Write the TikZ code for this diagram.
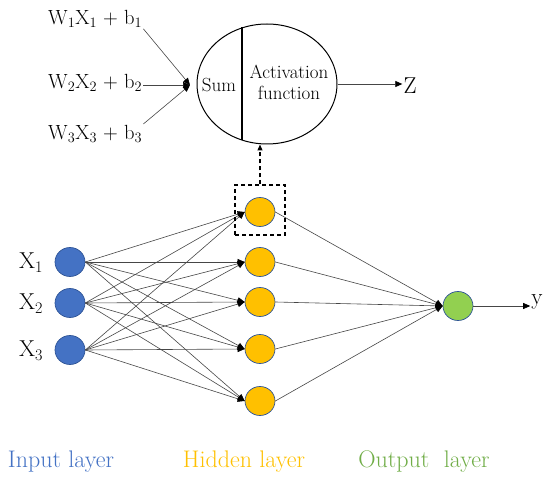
\documentclass[tikz,border=0pt]{standalone}
\usetikzlibrary{shapes.geometric,arrows.meta}
\definecolor{inblue}{RGB}{68,114,196}
\definecolor{hidyel}{RGB}{255,192,0}
\definecolor{outgrn}{RGB}{146,208,80}
\definecolor{lblgrn}{RGB}{112,173,71}
\definecolor{edgegray}{RGB}{70,70,70}
\definecolor{rimblue}{RGB}{47,85,151}
\begin{document}
\begin{tikzpicture}[x=1pt,y=-1pt,
  unit/.style={ellipse, minimum width=30pt, minimum height=29pt, inner sep=0pt, draw=rimblue, line width=0.7pt},
  conn/.style={draw=edgegray, line width=0.6pt, -{Triangle[length=7pt,width=6pt,fill=black,color=black]}},
  bigtxt/.style={font=\fontsize{23}{27}\selectfont, inner sep=1pt},
  wtxt/.style={font=\fontsize{20.5}{24}\selectfont, inner sep=1pt},
  midtxt/.style={font=\fontsize{19}{21}\selectfont, inner sep=0pt, align=center},
  laytxt/.style={font=\fontsize{24}{28}\selectfont, inner sep=0pt}]
\useasboundingbox (0,0) rectangle (550,481);

% input layer
\node[unit, fill=inblue] (i1) at (70,262) {};
\node[unit, fill=inblue] (i2) at (70,303) {};
\node[unit, fill=inblue] (i3) at (70,350) {};
\node[bigtxt] (x1) at (31,263) {X\textsubscript{1}};
\node[bigtxt] (x2) at (31,304) {X\textsubscript{2}};
\node[bigtxt] (x3) at (31,351) {X\textsubscript{3}};

% hidden layer
\node[unit, fill=hidyel] (h1) at (260,212) {};
\node[unit, fill=hidyel] (h2) at (260,262) {};
\node[unit, fill=hidyel] (h3) at (260,302) {};
\node[unit, fill=hidyel] (h4) at (260,349) {};
\node[unit, fill=hidyel] (h5) at (260,401) {};

% output layer
\node[unit, fill=outgrn] (o) at (458,306) {};
\node[bigtxt] (ylab) at (537,302) {y};

% input -> hidden
\foreach \i in {1,2,3}{
  \foreach \h in {1,2,3,4,5}{
    \draw[conn] (i\i.east) -- (h\h.west);
  }
}
% hidden -> output
\foreach \h in {1,2,3,4,5}{
  \draw[conn] (h\h.east) -- (o.west);
}
\draw[conn] (o.east) -- (o.east -| ylab.west);

% zoomed neuron
\node[draw, ellipse, minimum width=140pt, minimum height=120pt, line width=1pt, inner sep=0pt] (neu) at (267,84) {};
\draw[line width=1.3pt] (242,27) -- (242,140);
\node[midtxt] (sum) at (219,85) {Sum};
\node[midtxt] (act) at (289,82) {Activation\\function};
\node[bigtxt] (z) at (410,86) {Z};
\draw[conn] (neu.east) -- (neu.east -| z.west);

\node[wtxt, anchor=west] (w1) at (47,19) {W\textsubscript{1}X\textsubscript{1} + b\textsubscript{1}};
\node[wtxt, anchor=west] (w2) at (47,83) {W\textsubscript{2}X\textsubscript{2} + b\textsubscript{2}};
\node[wtxt, anchor=west] (w3) at (47,134) {W\textsubscript{3}X\textsubscript{3} + b\textsubscript{3}};
\coordinate (sumin) at (190,85);
\draw[conn] (w1.south east) -- (sumin);
\draw[conn] (w2.east |- sumin) -- (sumin);
\draw[conn] (w3.north east) -- (sumin);

% dashed box and link
\node[draw, line width=1.2pt, dash pattern=on 4pt off 3pt, minimum width=50pt, minimum height=50pt, inner sep=0pt] (box) at (260,210) {};
\draw[line width=1.2pt, dash pattern=on 4pt off 3pt, -{Triangle[length=6pt,width=5pt]}] (box.north) -- (box.north |- neu.south);

% layer captions
\node[laytxt, text=inblue] (lin) at (61,462) {Input layer};
\node[laytxt, text=hidyel] (lhid) at (244,462) {Hidden layer};
\node[laytxt, text=lblgrn] (lout) at (424,462) {Output~~layer};
\end{tikzpicture}
\end{document}
